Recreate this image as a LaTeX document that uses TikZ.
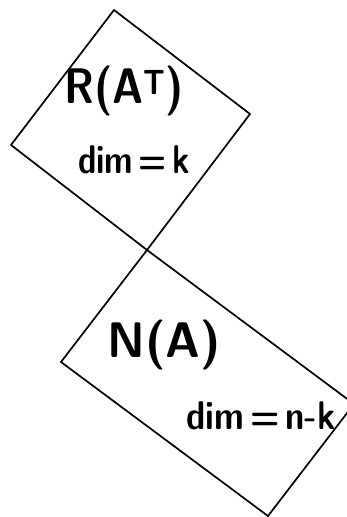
\documentclass[tikz,border=0pt]{standalone}
\usepackage{graphicx}
\begin{document}
\begin{tikzpicture}[x=1pt,y=-1pt,
  box/.style={line width=1.7pt, line join=miter},
  big/.style={font=\sffamily\bfseries\fontsize{50}{54}\selectfont, inner sep=0pt},
  small/.style={font=\sffamily\bfseries\fontsize{40}{44}\selectfont, inner sep=0pt}]
\useasboundingbox (0,0) rectangle (347,517);
\clip (0,0) rectangle (347,517);
% upper square
\coordinate (t1) at (114,10);
\coordinate (r1) at (250,114);
\coordinate (b1) at (147,250);
\coordinate (l1) at (11,145);
% lower rectangle
\coordinate (t2) at (147,250);
\coordinate (r2) at (354,404);
\coordinate (b2) at (268,516);
\coordinate (l2) at (61,362);
\draw[box] (t1) -- (r1) -- (b1) -- (l1) -- cycle;
\draw[box] (t2) -- (r2) -- (b2) -- (l2) -- cycle;
\node[big] (ra) at (124,91) {\scalebox{0.85}[1]{R(A\textsuperscript{T})}};
\node[small] (dk) at (134,160) {\scalebox{0.82}[1]{dim\,=\,k}};
\node[big] (na) at (164,345) {\scalebox{0.95}[1]{N(A)}};
\node[small] (dnk) at (261,416) {\scalebox{0.86}[1]{dim\,=\,n-k}};
\end{tikzpicture}
\end{document}
